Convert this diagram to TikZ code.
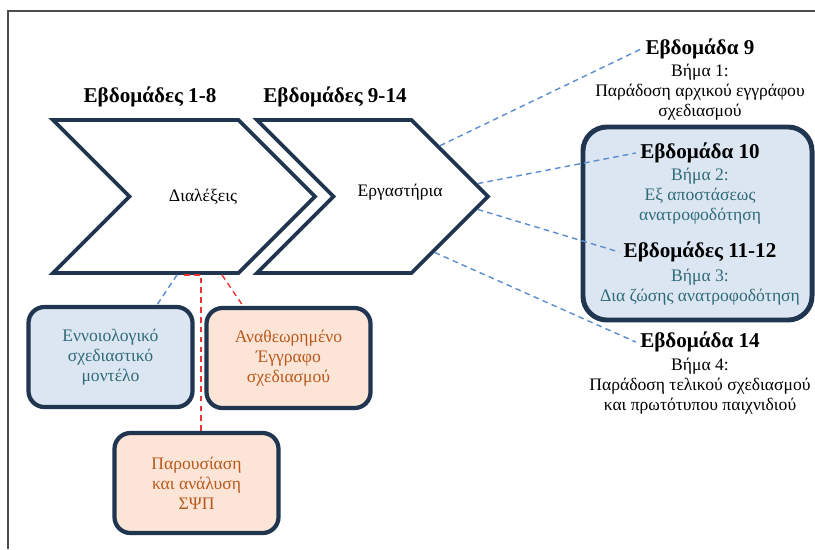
\documentclass[tikz,border=0pt]{standalone}
\usepackage{fontspec}
\setmainfont{Liberation Serif}
\usepackage{xcolor}
\usetikzlibrary{shapes.symbols, positioning, calc}
\definecolor{navy}{HTML}{1F3550}
\definecolor{paleblue}{HTML}{DCE6F2}
\definecolor{peach}{HTML}{FCE4D6}
\definecolor{tealtext}{HTML}{2F6B78}
\definecolor{rusttext}{HTML}{B85A1C}
\definecolor{linkblue}{HTML}{5B8DD0}
\definecolor{linkred}{HTML}{EE3333}

\begin{document}
\begin{tikzpicture}[x=0.025cm, y=-0.025cm,
            chevron/.style={signal, signal from=west, signal to=east, signal pointer angle=90, draw=navy, line width=2.6pt, fill=white, minimum height=3.825cm, inner sep=0pt},
            output/.style={rectangle, rounded corners=0.4cm, draw=navy, line width=3pt, minimum width=4.1cm, minimum height=2.5cm, align=center, font=\fontsize{12.5}{14.2}\selectfont},
            week/.style={font=\fontsize{15}{17}\selectfont\bfseries, inner sep=3pt},
            stepnote/.style={align=center, font=\fontsize{12.5}{14.2}\selectfont, inner sep=0pt},
            link/.style={dashed, dash pattern=on 4pt off 3pt, draw=linkblue, line width=1pt},
            redlink/.style={dashed, dash pattern=on 4pt off 3pt, draw=linkred, line width=1pt}
        ]
            \useasboundingbox (0,0) rectangle (815,549);
            \draw[black!70, line width=1.4pt] (8,549) -- (8,11) -- (815,11);

% Course phases
            \node[chevron, minimum width=6.55cm] (lectures) at (184,196.5) {};
            \node[chevron, minimum width=5.775cm] (labs) at (372.5,196.5) {};
            \node[font=\fontsize{12.5}{15}\selectfont] (lectures_txt) at (203,197) {Διαλέξεις};
            \node[font=\fontsize{12.5}{15}\selectfont] (labs_txt) at (400,192) {Εργαστήρια};
            \node[week] (weeks_1_8) at (150,97) {Εβδομάδες 1-8};
            \node[week] (weeks_9_14) at (335,97) {Εβδομάδες 9-14};

% Feedback steps
            \node[rectangle, rounded corners=0.6cm, draw=navy, line width=3.5pt, fill=paleblue, minimum width=5.725cm, minimum height=4.825cm] (feedback_box) at (697.5,223.5) {};
            \node[week] (week_9) at (700,49) {Εβδομάδα 9};
            \node[stepnote] (step_1) at (700,92) {Βήμα 1:\\Παράδοση αρχικού εγγράφου\\σχεδιασμού};
            \node[week] (week_10) at (700,153) {Εβδομάδα 10};
            \node[stepnote, text=tealtext] (step_2) at (700,196) {Βήμα 2:\\Εξ αποστάσεως\\ανατροφοδότηση};
            \node[week] (week_11_12) at (700,252) {Εβδομάδες 11-12};
            \node[stepnote, text=tealtext] (step_3) at (700,287) {Βήμα 3:\\Δια ζώσης ανατροφοδότηση};
            \node[week] (week_14) at (700,342) {Εβδομάδα 14};
            \node[stepnote] (step_4) at (700,386) {Βήμα 4:\\Παράδοση τελικού σχεδιασμού\\και πρωτότυπου παιχνιδιού};

% Lecture outputs
            \node[output, fill=paleblue, text=tealtext] (concept_model) at (110.5,357) {Εννοιολογικό\\σχεδιαστικό\\μοντέλο};
            \node[output, fill=peach, text=rusttext] (revised_doc) at (288.5,358) {Αναθεωρημένο\\Έγγραφο\\σχεδιασμού};
            \node[output, fill=peach, text=rusttext] (presentation) at (196.5,483) {Παρουσίαση\\και ανάλυση\\ΣΨΠ};

% Links
            \draw[link] (labs.37) -- (week_9.west);
            \draw[link] (labs.7) -- (week_10.west);
            \draw[link] (labs.-7) -- (week_11_12.west);
            \draw[link] (labs.-42) -- (week_14.west);
            \draw[link] ($(lectures.south)+(-7,0)$) -- ($(concept_model.north)+(46.5,0)$);
            \draw[redlink] ($(presentation.north)+(4.5,0)$) |- (lectures.south);
            \draw[redlink] ($(lectures.south)+(38,0)$) -- ($(revised_doc.north)+(-45.5,0)$);

        \end{tikzpicture}
\end{document}
